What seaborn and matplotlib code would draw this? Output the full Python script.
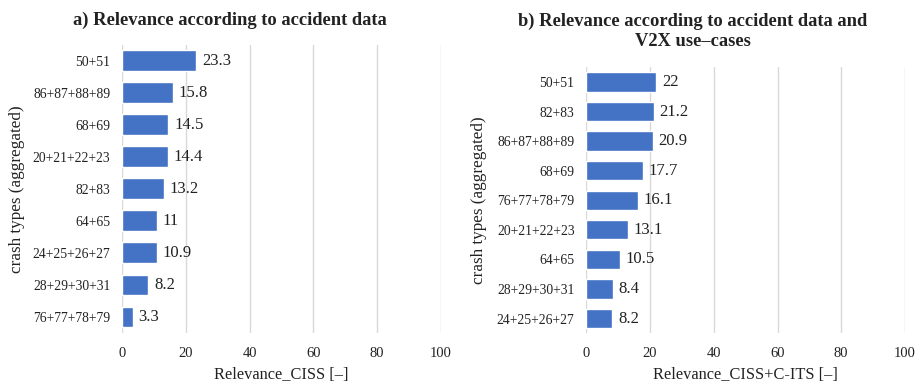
import matplotlib
matplotlib.use("Agg")
import matplotlib.pyplot as plt
import seaborn as sns
import pandas as pd

# Aggregated crash types ranked by relevance
types_a = ["50+51", "86+87+88+89", "68+69", "20+21+22+23", "82+83",
           "64+65", "24+25+26+27", "28+29+30+31", "76+77+78+79"]
relevance_ciss = [23.3, 15.8, 14.5, 14.4, 13.2, 11, 10.9, 8.2, 3.3]

types_b = ["50+51", "82+83", "86+87+88+89", "68+69", "76+77+78+79",
           "20+21+22+23", "64+65", "28+29+30+31", "24+25+26+27"]
relevance_ciss_cits = [22, 21.2, 20.9, 17.7, 16.1, 13.1, 10.5, 8.4, 8.2]

x_ticks = [0, 20, 40, 60, 80, 100]

sns.set_theme(style="white")
plt.rcParams["font.family"] = ["Liberation Serif", "DejaVu Serif"]

BAR = "#4472C4"
GRID = "#d9d9d9"
TEXT = "#222222"

fig = plt.figure(figsize=(9.18, 3.87), dpi=100)
ax_a = fig.add_axes([0.1332, 0.1395, 0.3469, 0.7455])
ax_b = fig.add_axes([0.6387, 0.1388, 0.3471, 0.6876])


def draw(ax, cats, vals, xlabel):
    df = pd.DataFrame({"type": cats, "value": vals})
    sns.barplot(data=df, x="value", y="type", orient="h", color=BAR,
                width=0.65, saturation=1, ax=ax, zorder=3)
    ax.set_xlim(0, 100)
    ax.set_xticks(x_ticks)
    ax.set_xticklabels([str(t) for t in x_ticks], fontsize=10.5, color=TEXT)
    ax.tick_params(axis="y", labelsize=9.8, colors=TEXT, length=0, pad=8.5)
    ax.tick_params(axis="x", length=0, pad=10)
    ax.xaxis.grid(True, color=GRID, linewidth=1, zorder=0)
    ax.yaxis.grid(False)
    for s in ax.spines.values():
        s.set_visible(False)
    ax.set_xlabel(xlabel, fontsize=11.8, color=TEXT, labelpad=5)
    ax.set_ylabel("crash types (aggregated)", fontsize=12.3, color=TEXT)
    for cont in ax.containers:
        ax.bar_label(cont, labels=[f"{v:g}" for v in vals], padding=4,
                     fontsize=12, color=TEXT)


draw(ax_a, types_a, relevance_ciss, "Relevance_CISS [\u2013]")
draw(ax_b, types_b, relevance_ciss_cits, "Relevance_CISS+C-ITS [\u2013]")

ax_a.yaxis.set_label_coords(-(122.3 - 25) / 318.4, 0.5)
ax_b.yaxis.set_label_coords(-(586.3 - 487) / 318.7, 0.5)

fig.text(229.5 / 918, 1 - 20 / 387, "a) Relevance according to accident data",
         ha="center", va="center", fontsize=13.3, fontweight="bold", color=TEXT)
fig.text(693 / 918, 1 - 31 / 387, "b) Relevance according to accident data and\nV2X use\u2013cases",
         ha="center", va="center", fontsize=13.3, fontweight="bold", color=TEXT,
         linespacing=1.25)

fig.savefig("out.png", dpi=100)
